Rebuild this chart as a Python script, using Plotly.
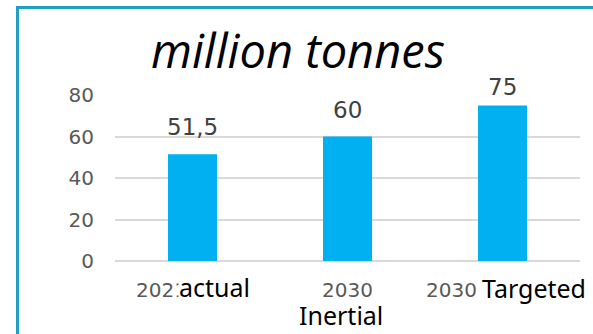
import plotly.graph_objects as go

categories = ["2021 actual", "2030 Inertial", "2030 Targeted"]
values = [51.5, 60, 75]
value_labels = ["51,5", "60", "75"]
year_labels = ["2021", "2030", "2030"]
kind_labels = ["actual", "Inertial", "Targeted"]
y_ticks = [0, 20, 40, 60, 80]
title_text = "million tonnes"

W, H = 593, 334
L, R, T, B = 115, 13, 95, 73
pw, ph = W - L - R, H - T - B

def px(x):
    return (x - L) / pw

def py(y):
    return (H - B - y) / ph

fig = go.Figure()
fig.add_trace(go.Bar(
    x=categories, y=values, marker_color="#00b0f0", marker_line_width=0,
    hoverinfo="skip",
))

ann = []
# value labels
label_shift = [12, 12, 3]
for c, v, t, s in zip(categories, values, value_labels, label_shift):
    ann.append(dict(x=c, y=v, text=t, showarrow=False, yanchor="bottom",
                    yshift=s, font=dict(family="DejaVu Sans", size=23, color="#404040")))
# grey year labels
year_shift = [-31, 0, -51]
for c, t, s in zip(categories, year_labels, year_shift):
    ann.append(dict(x=c, y=py(290), yref="paper", text=t, showarrow=False,
                    xshift=s, yanchor="middle",
                    font=dict(family="DejaVu Sans", size=20, color="#595959")))
# black kind labels (drawn over the year labels)
kind_x = [178, 341, 481]
kind_anchor = ["left", "center", "left"]
kind_y = [287, 315, 288]
for xp, yp, t, a in zip(kind_x, kind_y, kind_labels, kind_anchor):
    ann.append(dict(x=px(xp), y=py(yp), xref="paper", yref="paper", text=t,
                    showarrow=False, xanchor=a, yanchor="middle",
                    bgcolor="white", borderpad=0,
                    font=dict(family="Noto Sans", size=25, color="#000000")))
# title
ann.append(dict(x=px(298), y=py(50), xref="paper", yref="paper",
                text="<i>" + title_text + "</i>", showarrow=False,
                xanchor="center", yanchor="middle",
                font=dict(family="Open Sans", size=47, color="#000000")))

fig.update_layout(
    width=W, height=H,
    margin=dict(l=L, r=R, t=T, b=B),
    paper_bgcolor="white", plot_bgcolor="white",
    showlegend=False, bargap=0.684,
    annotations=ann,
    shapes=[dict(type="rect", xref="paper", yref="paper",
                 x0=px(17.5), x1=px(610), y0=py(7.5), y1=py(350),
                 line=dict(color="#1f9fc2", width=3), layer="above")],
    xaxis=dict(showticklabels=False, showgrid=False, zeroline=False,
               showline=False, ticks=""),
    yaxis=dict(range=[0, 80], tickvals=y_ticks, showgrid=True,
               gridcolor="#d9d9d9", gridwidth=1.5, zeroline=True,
               zerolinecolor="#d9d9d9", zerolinewidth=1.5, showline=False,
               ticks="", ticklabelstandoff=20,
               tickfont=dict(family="DejaVu Sans", size=20, color="#595959")),
)

fig.write_html("out.html")
